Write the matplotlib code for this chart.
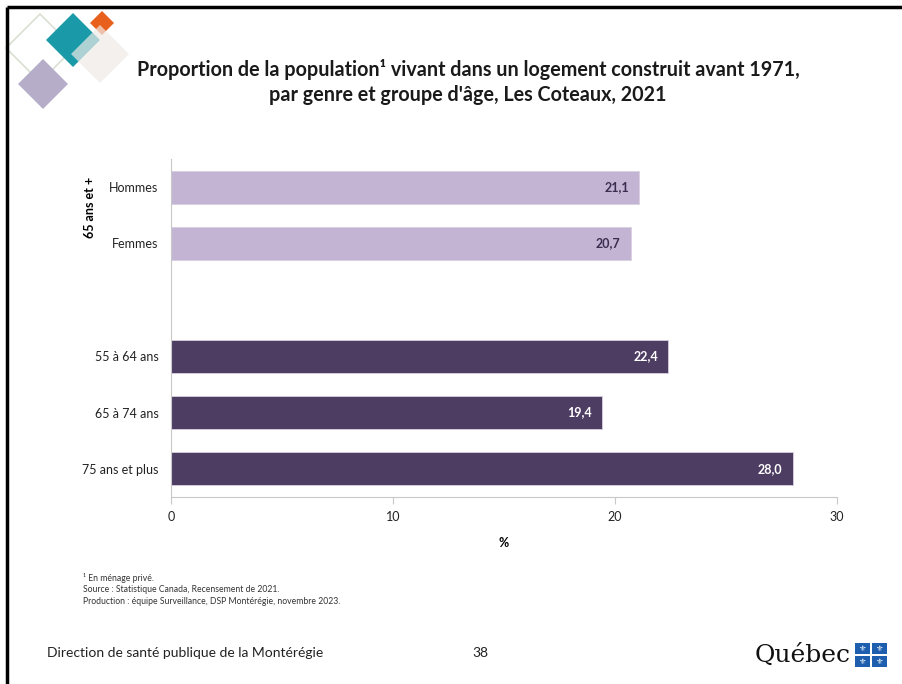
import matplotlib
matplotlib.use('Agg')
import matplotlib.pyplot as plt
from matplotlib.patches import Polygon, Rectangle

plt.rcParams['font.family'] = ['Lato', 'DejaVu Sans']

# 数据
categories = ['Hommes', 'Femmes', '', '55 à 64 ans', '65 à 74 ans', '75 ans et plus']
values = [21.1, 20.7, None, 22.4, 19.4, 28.0]
value_labels = ['21,1', '20,7', '', '22,4', '19,4', '28,0']
x_ticks = [0, 10, 20, 30]

light_color = '#c3b4d4'
dark_color = '#4e3d62'
bar_colors = [light_color, light_color, None, dark_color, dark_color, dark_color]
text_colors = ['#3b2d4f', '#3b2d4f', None, 'white', 'white', 'white']

fig = plt.figure(figsize=(9.02, 6.84), dpi=100)

# 背景层：边框、装饰方块、页脚
bg = fig.add_axes([0, 0, 1, 1], zorder=0)
bg.set_xlim(0, 902)
bg.set_ylim(684, 0)
bg.axis('off')

bg.plot([7, 902], [7, 7], color='black', lw=2.5, solid_capstyle='butt')
bg.plot([7, 7], [7, 684], color='black', lw=2.5, solid_capstyle='butt')


def diamond(cx, cy, h, **kw):
    return Polygon([(cx, cy - h), (cx + h, cy), (cx, cy + h), (cx - h, cy)], closed=True, **kw)


bg.add_patch(diamond(40, 48, 34, facecolor='none', edgecolor='#d9dfd3', lw=1.2))
bg.add_patch(diamond(43, 84, 25, facecolor='#b6aec9', edgecolor='none'))
bg.add_patch(diamond(102, 23, 12, facecolor='#e8601c', edgecolor='none'))
bg.add_patch(diamond(73, 40, 27, facecolor='#1a9aa8', edgecolor='none'))
bg.add_patch(diamond(100, 54, 29, facecolor='#eeeae8', edgecolor='none', alpha=0.7))

bg.text(468, 70, 'Proportion de la population\u00b9 vivant dans un logement construit avant 1971,',
        ha='center', va='center', fontsize=14.2, fontweight='bold', color='#1a1a1a')
bg.text(468, 95, "par genre et groupe d'âge, Les Coteaux, 2021",
        ha='center', va='center', fontsize=14.2, fontweight='bold', color='#1a1a1a')

bg.text(83, 578, '\u00b9 En ménage privé.', fontsize=6.2, va='center', color='#333333')
bg.text(83, 590, 'Source : Statistique Canada, Recensement de 2021.', fontsize=6.2, va='center', color='#333333')
bg.text(83, 602, 'Production : équipe Surveillance, DSP Montérégie, novembre 2023.', fontsize=6.2,
        va='center', color='#333333')

bg.text(47, 653, 'Direction de santé publique de la Montérégie', fontsize=10, va='center', color='#222222')
bg.text(480, 653, '38', fontsize=10, va='center', ha='center', color='#222222')

bg.text(755, 655, 'Québec', fontsize=18, va='center', family='DejaVu Serif', color='#111111')
for qx, qy in [(855, 643), (872, 643), (855, 656), (872, 656)]:
    bg.add_patch(Rectangle((qx, qy), 15, 11, facecolor='#1d5fae', edgecolor='none'))
    bg.text(qx + 7.5, qy + 5.8, '\u269c', fontsize=6, ha='center', va='center',
            color='white', family='DejaVu Sans')

# 主图
ax = fig.add_axes([171 / 902, 1 - 497 / 684, (837 - 171) / 902, (497 - 159) / 684], zorder=1)
ax.patch.set_alpha(0)

positions = list(range(len(categories)))
for pos, val, col, lab, tcol in zip(positions, values, bar_colors, value_labels, text_colors):
    if val is None:
        continue
    ax.barh(pos, val, height=0.58, color=col, edgecolor='#d8d0e0', linewidth=0.6)
    ax.text(val - 0.45, pos, lab, ha='right', va='center', fontsize=9, fontweight='bold', color=tcol)

ax.set_ylim(5.5, -0.5)
ax.set_xlim(0, 30)
ax.set_yticks(positions)
ax.set_yticklabels(categories, fontsize=9, color='#222222')
ax.set_xticks(x_ticks)
ax.set_xticklabels([str(t) for t in x_ticks], fontsize=9, color='#222222')
ax.tick_params(axis='y', length=0, pad=9)
ax.tick_params(axis='x', length=5, color='#c8c8c8', direction='out', pad=5)

for side in ['top', 'right']:
    ax.spines[side].set_visible(False)
ax.spines['left'].set_color('#c8c8c8')
ax.spines['bottom'].set_color('#c8c8c8')

ax.set_xlabel('%', fontsize=9, fontweight='bold', labelpad=10)
ax.text(-3.65, 0.35, '65 ans et +', rotation=90, ha='center', va='center', fontsize=9, fontweight='bold')

fig.savefig('out.png', dpi=100)
